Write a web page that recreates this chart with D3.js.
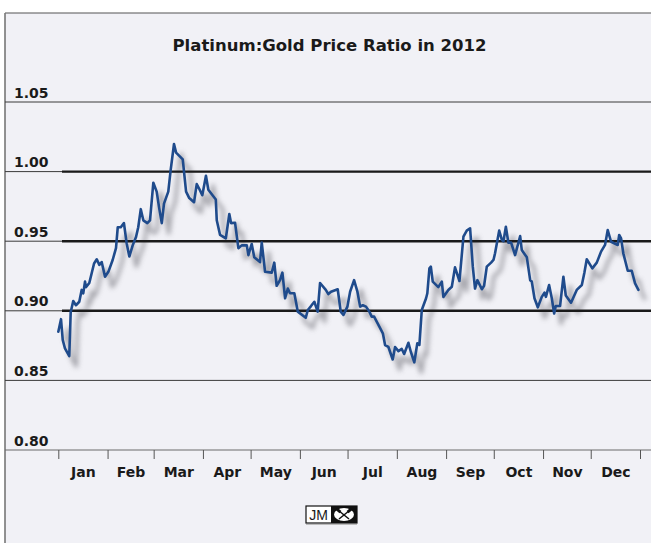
<!DOCTYPE html>
<html>
<head>
<meta charset="utf-8">
<script src="https://cdn.jsdelivr.net/npm/d3@7"></script>
<style>
  html, body { margin: 0; padding: 0; background: #ffffff; }
  svg { display: block; }
  text { font-family: "DejaVu Sans", sans-serif; font-weight: bold; fill: #1a1a1a; }
</style>
</head>
<body>
<svg id="chart" width="651" height="543"></svg>
<script>
// ---- data ----
const title = "Platinum:Gold Price Ratio in 2012";
// day offset from 1 Jan 2012
const days = [0.0,1.7,2.8,4.2,6.9,7.8,9.4,11.1,13.2,14.7,15.7,16.8,17.4,19.5,21.0,22.5,24.2,25.8,27.3,29.4,
  31.5,34.2,36.3,37.4,39.3,41.3,43.0,44.7,46.8,48.9,50.3,51.9,53.5,56.0,57.7,59.8,61.9,63.5,65.1,66.5,
  69.2,70.7,72.8,74.1,78.3,80.4,82.4,85.4,87.1,88.5,90.6,92.9,94.4,99.1,99.7,101.8,105.4,107.6,108.7,111.2,
  113.3,115.4,118.6,119.6,121.7,123.3,126.9,128.0,130.1,134.3,135.9,137.4,139.5,141.0,142.7,144.4,145.8,148.5,150.7,155.7,
  157.0,159.0,161.1,163.2,164.7,168.3,169.9,171.6,175.8,177.7,179.4,181.9,183.6,186.1,188.2,189.9,191.6,193.6,195.7,197.2,
  198.7,202.0,204.2,205.6,207.7,210.4,211.9,214.0,216.1,217.6,220.3,221.8,224.0,225.9,227.2,228.7,231.4,232.2,233.5,234.4,
  235.6,239.1,241.3,242.3,245.4,247.6,249.6,252.4,254.9,257.0,259.1,260.8,262.2,263.7,266.5,267.9,269.6,272.3,273.8,274.8,
  277.4,279.1,280.1,281.6,283.2,284.9,287.4,290.6,291.6,294.8,296.9,297.9,299.6,301.7,304.2,305.9,306.8,308.8,310.5,312.0,
  313.0,315.7,317.8,319.3,322.6,326.2,329.4,331.0,332.5,336.0,338.8,341.5,344.0,345.7,347.8,352.0,352.9,354.1,355.5,358.3,
  360.8,362.9,365.0];
const ratio = [0.885,0.894,0.879,0.873,0.8675,0.899,0.907,0.904,0.9065,0.915,0.9125,0.921,0.917,0.920,0.927,0.934,0.937,0.933,0.935,0.9245,
  0.928,0.9365,0.945,0.960,0.960,0.963,0.9485,0.939,0.947,0.953,0.960,0.973,0.965,0.963,0.965,0.992,0.9856,0.9736,0.963,0.977,
  0.9856,1.001,1.0198,1.0136,1.0088,0.9856,0.981,0.978,0.991,0.988,0.983,0.997,0.987,0.980,0.965,0.9545,0.952,0.9695,0.963,0.9633,
  0.945,0.947,0.947,0.940,0.948,0.9384,0.935,0.949,0.928,0.9274,0.9346,0.918,0.922,0.9274,0.909,0.916,0.9126,0.9126,0.8994,0.895,
  0.9006,0.9034,0.9065,0.8994,0.920,0.915,0.912,0.9137,0.9155,0.8994,0.897,0.903,0.9137,0.922,0.9137,0.903,0.904,0.903,0.8994,0.8958,
  0.8958,0.8886,0.8838,0.8754,0.874,0.865,0.874,0.871,0.8726,0.869,0.877,0.8706,0.863,0.8767,0.8755,0.9006,0.909,0.9126,0.9305,0.9317,
  0.921,0.917,0.921,0.910,0.915,0.9173,0.9312,0.9214,0.9532,0.9576,0.9593,0.9317,0.916,0.922,0.9155,0.918,0.9317,0.9346,0.9365,0.9413,
  0.9576,0.9509,0.950,0.9604,0.9489,0.949,0.940,0.9537,0.9437,0.9384,0.922,0.921,0.909,0.9025,0.910,0.913,0.910,0.9185,0.909,0.898,
  0.9034,0.9034,0.9245,0.911,0.9058,0.915,0.9185,0.9274,0.937,0.9305,0.9346,0.9425,0.9473,0.958,0.9496,0.9473,0.9545,0.952,0.9413,0.9288,
  0.9288,0.9197,0.915];
const monthLabels = ["Jan","Feb","Mar","Apr","May","Jun","Jul","Aug","Sep","Oct","Nov","Dec"];
const yTickValues = [0.80, 0.85, 0.90, 0.95, 1.00, 1.05];
const boldValues = [0.90, 0.95, 1.00];

// ---- drawing ----
const W = 651, H = 543;
const frameLeft = 5, frameTop = 13;
const svg = d3.select("#chart");
const start = new Date(2012, 0, 1);
const toDate = d => new Date(start.getTime() + d * 864e5);
const data = days.map((d, i) => ({ date: toDate(d), v: ratio[i] }));

const x = d3.scaleTime().domain([start, new Date(2013, 0, 1)]).range([58.3, 640]);
const y = d3.scaleLinear().domain([0.80, 1.05]).range([450, 102]);

// frame
svg.append("rect").attr("x", frameLeft).attr("y", frameTop)
  .attr("width", W - frameLeft + 5).attr("height", H - frameTop + 5)
  .attr("fill", "#f1f1f6");
svg.append("line").attr("x1", frameLeft).attr("x2", W).attr("y1", frameTop).attr("y2", frameTop)
  .attr("stroke", "#555").attr("stroke-width", 1.2);
svg.append("line").attr("x1", frameLeft).attr("x2", frameLeft).attr("y1", frameTop).attr("y2", H)
  .attr("stroke", "#777").attr("stroke-width", 1.6);

// title
svg.append("text").attr("x", 329.5).attr("y", 51).attr("text-anchor", "middle")
  .style("font-size", "16.5px").text(title);

// shadow
const defs = svg.append("defs");
defs.append("filter").attr("id", "blur").attr("x", "-10%").attr("y", "-10%")
  .attr("width", "120%").attr("height", "120%")
  .append("feGaussianBlur").attr("stdDeviation", 2.5);

const line = d3.line().x(d => x(d.date)).y(d => y(d.v));
svg.append("path").datum(data).attr("d", line)
  .attr("transform", "translate(7,10)")
  .attr("fill", "none").attr("stroke", "#8e8e95").attr("stroke-width", 3.6)
  .attr("stroke-linejoin", "round").attr("opacity", 0.75)
  .attr("filter", "url(#blur)");

// gridlines
const grid = svg.append("g");
grid.selectAll("line.thin").data(yTickValues).join("line")
  .attr("class", "thin")
  .attr("x1", frameLeft).attr("x2", W)
  .attr("y1", d => y(d)).attr("y2", d => y(d))
  .attr("stroke", d => d === 0.80 ? "#6a6a6a" : "#3a3a3a").attr("stroke-width", 1);
grid.selectAll("line.bold").data(boldValues).join("line")
  .attr("class", "bold")
  .attr("x1", 62).attr("x2", W)
  .attr("y1", d => y(d)).attr("y2", d => y(d))
  .attr("stroke", "#1a1a1a").attr("stroke-width", 2.4);

// y labels
svg.append("g").selectAll("text").data(yTickValues).join("text")
  .attr("x", 14).attr("y", d => y(d) - 4.5)
  .style("font-size", "14px")
  .text(d => d3.format(".2f")(d));

// x axis ticks
const xAxis = d3.axisBottom(x)
  .tickValues(d3.timeMonth.range(start, new Date(2013, 0, 2)))
  .tickSize(9).tickFormat("");
const gx = svg.append("g").attr("transform", "translate(0,450)").call(xAxis);
gx.select(".domain").remove();
gx.selectAll(".tick line").attr("stroke", "#555").attr("stroke-width", 1);

// month labels at mid-month
const mids = monthLabels.map((m, i) => new Date(
  (new Date(2012, i, 1).getTime() + new Date(2012, i + 1, 1).getTime()) / 2));
const labAxis = d3.axisBottom(x).tickValues(mids).tickSize(0)
  .tickFormat((d, i) => monthLabels[i]);
const gl = svg.append("g").attr("transform", "translate(0,450)").call(labAxis);
gl.select(".domain").remove();
gl.selectAll(".tick text").attr("y", 26.7).attr("dy", null)
  .style("font-family", "'DejaVu Sans', sans-serif").style("font-weight", "bold")
  .style("font-size", "14px").attr("fill", "#1a1a1a");

// main line
svg.append("path").datum(data).attr("d", line)
  .attr("fill", "none").attr("stroke", "#1f4b8c").attr("stroke-width", 2.6)
  .attr("stroke-linejoin", "round").attr("stroke-linecap", "round");

// JM logo
const logo = svg.append("g").attr("transform", "translate(306,506)");
logo.append("rect").attr("x", 0).attr("y", 0).attr("width", 51).attr("height", 17)
  .attr("fill", "#fff").attr("stroke", "#111").attr("stroke-width", 1.2);
logo.append("rect").attr("x", 25).attr("y", 0).attr("width", 26).attr("height", 17).attr("fill", "#111");
logo.append("text").attr("x", 12.5).attr("y", 13.5).attr("text-anchor", "middle")
  .style("font-family", "'Liberation Sans', Arial, sans-serif").style("font-weight", "normal")
  .style("font-size", "14px").attr("fill", "#111").text("JM");
logo.append("ellipse").attr("cx", 38).attr("cy", 8.5).attr("rx", 10).attr("ry", 6.5).attr("fill", "#fff");
logo.append("line").attr("x1", 32.5).attr("y1", 4.5).attr("x2", 43).attr("y2", 13).attr("stroke", "#111").attr("stroke-width", 1.5);
logo.append("line").attr("x1", 43.5).attr("y1", 4.5).attr("x2", 33).attr("y2", 13).attr("stroke", "#111").attr("stroke-width", 1.5);
logo.append("rect").attr("x", 30).attr("y", 3).attr("width", 5).attr("height", 3).attr("fill", "#111").attr("transform", "rotate(40,32.5,4.5)");
logo.append("rect").attr("x", 41).attr("y", 3).attr("width", 5).attr("height", 3).attr("fill", "#111").attr("transform", "rotate(-40,43.5,4.5)");
logo.append("line").attr("x1", 0).attr("x2", 51).attr("y1", 18.5).attr("y2", 18.5).attr("stroke", "#bbb").attr("stroke-width", 1);
</script>
</body>
</html>
